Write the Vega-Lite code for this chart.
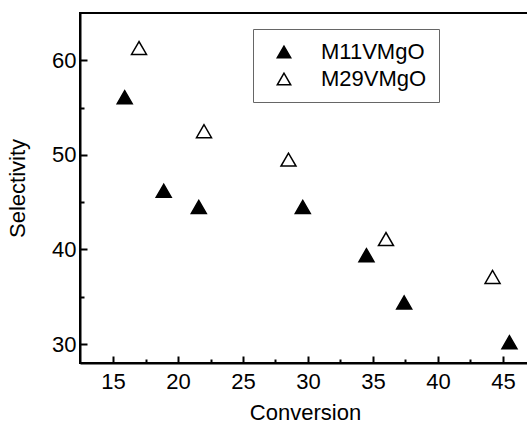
{
  "$schema": "https://vega.github.io/schema/vega-lite/v6.json",
  "width": 450,
  "height": 350,
  "autosize": {"type": "none"},
  "padding": {"left": 80, "top": 13, "right": 0, "bottom": 62},
  "background": "white",
  "config": {
    "font": "Liberation Sans",
    "view": {"stroke": "black", "strokeWidth": 2}
  },
  "data": {
    "values": [
      {"conversion": 15.9, "selectivity": 56.1, "catalyst": "M11VMgO"},
      {"conversion": 18.9, "selectivity": 46.2, "catalyst": "M11VMgO"},
      {"conversion": 21.6, "selectivity": 44.5, "catalyst": "M11VMgO"},
      {"conversion": 29.6, "selectivity": 44.5, "catalyst": "M11VMgO"},
      {"conversion": 34.5, "selectivity": 39.4, "catalyst": "M11VMgO"},
      {"conversion": 37.4, "selectivity": 34.4, "catalyst": "M11VMgO"},
      {"conversion": 45.5, "selectivity": 30.2, "catalyst": "M11VMgO"},
      {"conversion": 17.0, "selectivity": 61.3, "catalyst": "M29VMgO"},
      {"conversion": 22.0, "selectivity": 52.5, "catalyst": "M29VMgO"},
      {"conversion": 28.5, "selectivity": 49.5, "catalyst": "M29VMgO"},
      {"conversion": 36.0, "selectivity": 41.1, "catalyst": "M29VMgO"},
      {"conversion": 44.2, "selectivity": 37.1, "catalyst": "M29VMgO"}
    ]
  },
  "mark": {"type": "point", "shape": "triangle-up", "size": 225, "stroke": "black", "strokeWidth": 1.5, "opacity": 1},
  "encoding": {
    "x": {
      "field": "conversion", "type": "quantitative",
      "scale": {"domain": [12.46, 47.08], "nice": false, "zero": false},
      "axis": {
        "title": "Conversion", "titleFontSize": 22, "titleFontWeight": "normal", "titleColor": "black", "titlePadding": 10,
        "values": [15, 17.5, 20, 22.5, 25, 27.5, 30, 32.5, 35, 37.5, 40, 42.5, 45],
        "labelExpr": "datum.value % 5 === 0 ? datum.label : ''",
        "labelFontSize": 22, "labelColor": "black", "labelPadding": 15,
        "tickSize": {"condition": {"test": "datum.value % 5 === 0", "value": -7}, "value": -4},
        "tickColor": "black", "tickWidth": 2, "domainColor": "black", "domainWidth": 2, "grid": false
      }
    },
    "y": {
      "field": "selectivity", "type": "quantitative",
      "scale": {"domain": [28, 65], "nice": false, "zero": false},
      "axis": {
        "title": "Selectivity", "titleFontSize": 22, "titleFontWeight": "normal", "titleColor": "black", "titlePadding": 22,
        "values": [30, 35, 40, 45, 50, 55, 60],
        "labelExpr": "datum.value % 10 === 0 ? datum.label : ''",
        "labelFontSize": 22, "labelColor": "black", "labelPadding": 11,
        "tickSize": {"condition": {"test": "datum.value % 10 === 0", "value": -7}, "value": -4},
        "tickColor": "black", "tickWidth": 2, "domainColor": "black", "domainWidth": 2, "grid": false
      }
    },
    "fill": {
      "field": "catalyst", "type": "nominal",
      "scale": {"domain": ["M11VMgO", "M29VMgO"], "range": ["black", "white"]},
      "legend": {
        "title": null, "orient": "none", "legendX": 173, "legendY": 16,
        "symbolType": "triangle-up", "symbolSize": 180, "symbolStrokeColor": "black", "symbolStrokeWidth": 1.5,
        "labelFontSize": 22, "labelColor": "black", "labelOffset": 26,
        "padding": 12, "rowPadding": 5, "symbolOffset": 8,
        "strokeColor": "#666666", "fillColor": "white"
      }
    }
  }
}
